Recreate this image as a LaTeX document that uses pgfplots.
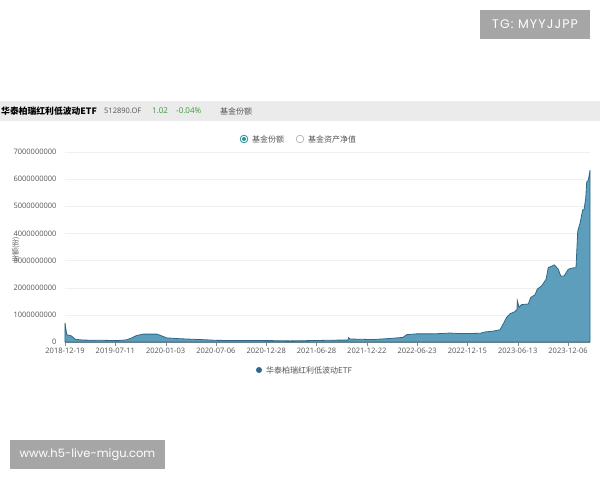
\documentclass[border=0pt]{standalone}
\usepackage{pgfplots}
\pgfplotsset{compat=1.18}
\usepackage{fontspec}
\setmainfont{Open Sans}
\newfontfamily\cjk{Noto Sans CJK SC}
\newfontfamily\wm{Poppins}
\newfontfamily\wmwide[LetterSpace=9]{Poppins}

\definecolor{areafill}{RGB}{93,158,188}
\definecolor{arealine}{RGB}{45,105,135}
\definecolor{txtgray}{RGB}{85,85,85}
\definecolor{upgreen}{RGB}{60,150,60}
\definecolor{radio}{RGB}{40,150,150}
\definecolor{wmgray}{RGB}{166,166,166}

\begin{document}
\begin{tikzpicture}[x=1pt,y=1pt]
  \useasboundingbox (0,0) rectangle (600,480);
  \fill[white] (0,0) rectangle (600,480);

  % header bar
  \fill[black!8] (0,359) rectangle (600,379);
  \node[anchor=west,inner sep=0pt] at (1,369) {\cjk\fontsize{8.8}{11}\selectfont\bfseries 华泰柏瑞红利低波动ETF};
  \node[anchor=west,inner sep=0pt,text=txtgray] at (104,369) {\fontsize{7.5}{9}\selectfont 512890.OF};
  \node[anchor=west,inner sep=0pt,text=upgreen] at (152,369) {\fontsize{8}{9}\selectfont 1.02};
  \node[anchor=west,inner sep=0pt,text=upgreen] at (176,369) {\fontsize{8}{9}\selectfont -0.04\%};
  \node[anchor=west,inner sep=0pt,text=txtgray] at (220,369) {\cjk\fontsize{8}{9}\selectfont 基金份额};

  % top legend (radio buttons)
  \draw[radio,line width=0.8pt] (244,341) circle (3.8);
  \fill[radio] (244,341) circle (2);
  \node[anchor=west,inner sep=0pt,text=txtgray] at (252,341) {\cjk\fontsize{8}{9}\selectfont 基金份额};
  \draw[black!35,line width=0.6pt] (300,341) circle (3.8);
  \node[anchor=west,inner sep=0pt,text=txtgray] at (308,341) {\cjk\fontsize{8}{9}\selectfont 基金资产净值};

  \begin{axis}[
    at={(65pt,138pt)}, anchor=south west,
    scale only axis, width=525pt, height=190pt,
    xmin=0, xmax=10.437, ymin=0, ymax=7,
    axis x line*=bottom, axis y line*=left,
    y axis line style={draw=none},
    x axis line style={black!45},
    xtick={0,...,10},
    xticklabels={2018-12-19,2019-07-11,2020-01-03,2020-07-06,2020-12-28,2021-06-28,2021-12-22,2022-06-23,2022-12-15,2023-06-13,2023-12-06},
    ytick={0,...,7},
    yticklabels={0,1000000000,2000000000,3000000000,4000000000,5000000000,6000000000,7000000000},
    tick align=outside,
    x tick style={black!45},
    y tick style={draw=none},
    major tick length=4pt,
    ymajorgrids, grid style={black!6},
    tick label style={font=\fontsize{7.5}{9}\selectfont, text=txtgray},
    xticklabel style={yshift=1pt},
    yticklabel style={xshift=-1pt},
    /pgf/number format/assume math mode=true,
    clip=false,
  ]
    \addplot[fill=areafill, draw=arealine, line width=0.8pt] coordinates {
      (0,0) (0,0.70) (0.034,0.27) (0.133,0.22) (0.199,0.10) (0.358,0.07)
      (0.829,0.06) (1.028,0.05) (1.227,0.08) (1.326,0.15) (1.425,0.24)
      (1.557,0.29) (1.823,0.29) (1.889,0.25) (2.022,0.15) (2.286,0.12)
      (2.817,0.08) (3.016,0.06) (4.135,0.05) (4.473,0.04) (5.467,0.07)
      (5.626,0.07) (5.636,0.16) (5.666,0.11) (6.123,0.09) (6.461,0.13)
      (6.720,0.17) (6.793,0.27) (6.992,0.30) (7.316,0.30) (7.455,0.31)
      (7.654,0.33) (7.853,0.31) (8.250,0.32) (8.350,0.37) (8.509,0.40)
      (8.648,0.45) (8.714,0.67) (8.781,0.91) (8.847,1.04) (8.946,1.12)
      (8.986,1.20) (8.992,1.52) (9.026,1.28) (9.080,1.38) (9.211,1.40)
      (9.258,1.64) (9.344,1.74) (9.390,1.95) (9.477,2.07) (9.563,2.31)
      (9.608,2.74) (9.728,2.84) (9.807,2.68) (9.855,2.43) (9.920,2.43)
      (10.006,2.68) (10.074,2.72) (10.159,2.74) (10.193,4.08) (10.239,4.38)
      (10.292,4.87) (10.318,4.87) (10.352,5.29) (10.372,5.90) (10.404,5.96)
      (10.437,6.33)
    } \closedcycle;
  \end{axis}

  % y label
  \node[rotate=90,inner sep=0pt,text=txtgray] at (16,230) {\cjk\fontsize{7}{8}\selectfont 份额(份)};

  % bottom legend
  \fill[arealine] (259,110) circle (3);
  \node[anchor=west,inner sep=0pt,text=txtgray] at (266,110) {\cjk\fontsize{8}{9}\selectfont 华泰柏瑞红利低波动ETF};

  % watermarks
  \fill[wmgray] (480,441) rectangle (590,470);
  \node[text=white,inner sep=0pt] at (535,455.5) {\wmwide\fontsize{12.5}{14}\selectfont TG: MYYJJPP};
  \fill[wmgray] (10,11) rectangle (165,40);
  \node[text=white,inner sep=0pt] at (87.5,25.5) {\wm\fontsize{11.5}{13}\selectfont www.h5-live-migu.com};
\end{tikzpicture}
\end{document}
